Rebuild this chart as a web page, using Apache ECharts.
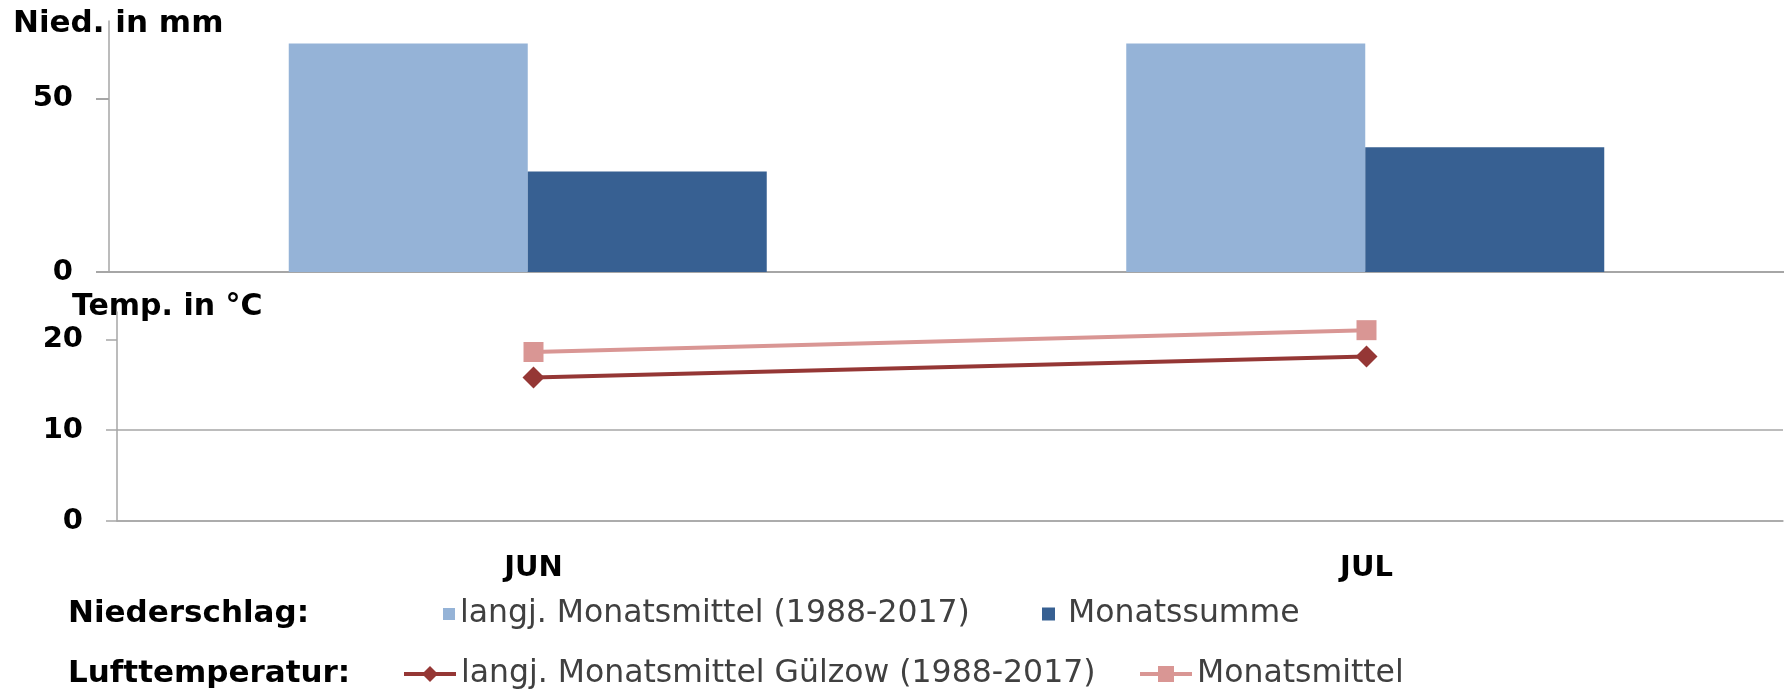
<!DOCTYPE html>
<html><head><meta charset="utf-8">
<script src="https://cdn.jsdelivr.net/npm/echarts@6/dist/echarts.min.js"></script>
<style>html,body{margin:0;padding:0;background:#fff}#c{width:1789px;height:694px}</style>
</head><body><div id="c"></div>
<script>
// ---- data ----
const months = ['JUN', 'JUL'];
const precipLongTerm = [66, 66];      // langj. Monatsmittel (1988-2017), mm
const precipMonth = [29, 36];         // Monatssumme, mm
const tempLongTerm = [15.8, 18.1];    // langj. Monatsmittel Gülzow (1988-2017), °C
const tempMonth = [18.6, 21.0];       // Monatsmittel, °C
const precipTicks = [0, 50];
const tempTicks = [0, 10, 20];
const seriesNames = ['langj. Monatsmittel (1988-2017)', 'Monatssumme', 'langj. Monatsmittel Gülzow (1988-2017)', 'Monatsmittel'];

const FONT = '"DejaVu Sans", sans-serif';
const GRID = '#a6a6a6';
const chart = echarts.init(document.getElementById('c'), null, {renderer: 'canvas'});

const legendText = {fontFamily: FONT, fontSize: 31.5, color: '#404040'};
const option = {
  animation: false,
  backgroundColor: '#fff',
  grid: [
    {left: 109, right: 5, top: 21, height: 251},
    {left: 117, right: 6, top: 312, height: 209}
  ],
  xAxis: [
    {type: 'category', gridIndex: 0, data: months,
     axisLine: {show: false}, axisTick: {show: false}, axisLabel: {show: false}},
    {type: 'category', gridIndex: 1, data: months,
     axisLine: {lineStyle: {color: GRID, width: 1.5}},
     axisTick: {length: 11, lineStyle: {color: GRID, width: 1.5}},
     axisLabel: {margin: 33, color: '#000', fontFamily: FONT, fontWeight: 'bold', fontSize: 29}}
  ],
  yAxis: [
    {type: 'value', gridIndex: 0, min: 0, max: 72.5, interval: 50,
     axisLine: {show: true, lineStyle: {color: GRID, width: 1.5}},
     axisTick: {show: true, length: 13, customValues: precipTicks, lineStyle: {color: GRID, width: 2}},
     axisLabel: {customValues: precipTicks, margin: 36, color: '#000', fontFamily: FONT, fontWeight: 'bold', fontSize: 29},
     splitLine: {show: true, showMaxLine: false, lineStyle: {color: GRID, width: 2}}},
    {type: 'value', gridIndex: 1, min: 0, max: 23, interval: 10,
     axisLine: {show: true, lineStyle: {color: GRID, width: 1.5}},
     axisTick: {show: true, length: 11, customValues: tempTicks, lineStyle: {color: GRID, width: 1.5}},
     axisLabel: {customValues: tempTicks, margin: 34, color: '#000', fontFamily: FONT, fontWeight: 'bold', fontSize: 29},
     splitLine: {show: true, showMaxLine: false, lineStyle: {color: GRID, width: 1.5}}}
  ],
  legend: [
    {data: [seriesNames[0]], left: 443, top: 598, padding: 0,
     icon: 'rect', itemWidth: 12, itemHeight: 12, textStyle: legendText},
    {data: [seriesNames[1]], left: 1042, top: 598, padding: 0,
     icon: 'rect', itemWidth: 13, itemHeight: 13,
     textStyle: Object.assign({padding: [0, 0, 0, 8]}, legendText)},
    {data: [seriesNames[2]], left: 402, top: 658, padding: 0,
     itemWidth: 52, itemHeight: 20, lineStyle: {width: 4}, textStyle: legendText},
    {data: [seriesNames[3]], left: 1138, top: 658, padding: 0,
     itemWidth: 52, itemHeight: 20, lineStyle: {width: 4}, textStyle: legendText}
  ],
  graphic: [
    {type: 'text', x: 13, y: 24, style: {text: 'Nied. in mm', fontFamily: FONT, fontWeight: 'bold', fontSize: 31, fill: '#000', verticalAlign: 'middle'}},
    {type: 'text', x: 72, y: 307, style: {text: 'Temp. in °C', fontFamily: FONT, fontWeight: 'bold', fontSize: 30, fill: '#000', verticalAlign: 'middle'}},
    {type: 'text', x: 68, y: 614, style: {text: 'Niederschlag:', fontFamily: FONT, fontWeight: 'bold', fontSize: 31, fill: '#000', verticalAlign: 'middle'}},
    {type: 'text', x: 68, y: 674, style: {text: 'Lufttemperatur:', fontFamily: FONT, fontWeight: 'bold', fontSize: 31, fill: '#000', verticalAlign: 'middle'}}
  ],
  series: [
    {type: 'bar', name: seriesNames[0], xAxisIndex: 0, yAxisIndex: 0, data: precipLongTerm,
     barWidth: 239, barGap: '0%', itemStyle: {color: '#95B3D7'}},
    {type: 'bar', name: seriesNames[1], xAxisIndex: 0, yAxisIndex: 0, data: precipMonth,
     barWidth: 239, barGap: '0%', itemStyle: {color: '#376092'}},
    {type: 'line', name: seriesNames[2], xAxisIndex: 1, yAxisIndex: 1, data: tempLongTerm,
     symbol: 'diamond', symbolSize: 22, lineStyle: {color: '#953735', width: 4}, itemStyle: {color: '#953735'}},
    {type: 'line', name: seriesNames[3], xAxisIndex: 1, yAxisIndex: 1, data: tempMonth,
     symbol: 'rect', symbolSize: 20, lineStyle: {color: '#D99694', width: 4}, itemStyle: {color: '#D99694'}}
  ]
};
chart.setOption(option);
</script></body></html>
